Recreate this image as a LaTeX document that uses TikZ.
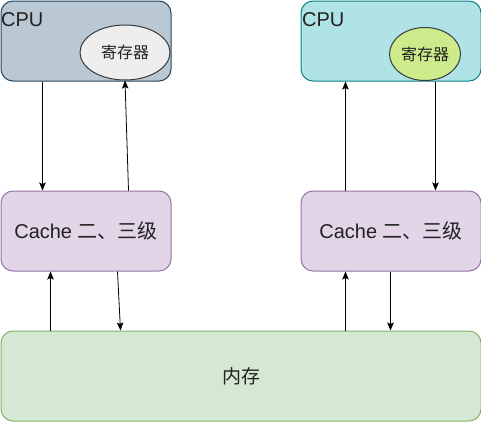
\documentclass[tikz,border=0pt]{standalone}
\usepackage{fontspec}
\setmainfont{Liberation Sans}
\newfontfamily\cjk{Noto Sans CJK SC}
\usetikzlibrary{shapes.geometric,arrows.meta}
\definecolor{cpuLfill}{HTML}{BAC8D3}
\definecolor{cpuLdraw}{HTML}{23445D}
\definecolor{cpuRfill}{HTML}{B0E3E6}
\definecolor{cpuRdraw}{HTML}{0E8088}
\definecolor{regLfill}{HTML}{EEEEEE}
\definecolor{regRfill}{HTML}{CDEB8B}
\definecolor{regdraw}{HTML}{36393D}
\definecolor{cachefill}{HTML}{E1D5E7}
\definecolor{cachedraw}{HTML}{9673A6}
\definecolor{memfill}{HTML}{D5E8D4}
\definecolor{memdraw}{HTML}{82B366}
\definecolor{txt}{HTML}{222222}
\begin{document}
\begin{tikzpicture}[x=1pt,y=-1pt,
  box/.style={rectangle, rounded corners=12pt, line width=1pt, inner sep=0pt, anchor=north west, text=txt},
  regbox/.style={ellipse, line width=1pt, draw=regdraw, inner sep=0pt, text=txt, font=\cjk\fontsize{16}{16}\selectfont},
  bigtext/.style={font=\fontsize{20}{20}\selectfont},
  arr/.style={-{Stealth[length=8pt,width=6.5pt,inset=1.5pt]}, line width=0.8pt, black}]
\useasboundingbox (0,0) rectangle (481,421);
% CPU boxes
\node[box, fill=cpuLfill, draw=cpuLdraw, minimum width=170pt, minimum height=80pt] (cpuL) at (0.5,0.5) {};
\node[box, fill=cpuRfill, draw=cpuRdraw, minimum width=180pt, minimum height=80pt] (cpuR) at (300.5,0.5) {};
\node[anchor=base west, bigtext, text=txt, inner sep=0pt] (cpuLt) at (1,26.5) {CPU};
\node[anchor=base west, bigtext, text=txt, inner sep=0pt] (cpuRt) at (302,26.5) {CPU};
% registers
\node[regbox, fill=regLfill, minimum width=90pt, minimum height=55pt] (regL) at (125,52.5) {寄存器};
\node[regbox, fill=regRfill, minimum width=71pt, minimum height=53pt] (regR) at (425,54) {寄存器};
% caches
\node[box, fill=cachefill, draw=cachedraw, minimum width=170pt, minimum height=80pt] (cacheL) at (0.5,190.5) {};
\node[box, fill=cachefill, draw=cachedraw, minimum width=180pt, minimum height=80pt] (cacheR) at (300.5,190.5) {};
\node[bigtext, text=txt] (cacheLt) at (cacheL.center) {Cache {\cjk 二、三级}};
\node[bigtext, text=txt] (cacheRt) at (cacheR.center) {Cache {\cjk 二、三级}};
% memory
\node[box, fill=memfill, draw=memdraw, minimum width=480pt, minimum height=90pt] (mem) at (0.5,330.5) {};
\node[text=txt, font=\cjk\fontsize{19}{19}\selectfont] (memt) at (mem.center) {内存};
% arrows left
\draw[arr] ([xshift=42pt]cpuL.south west) -- ([xshift=42pt]cacheL.north west);
\draw[arr] ([xshift=128pt]cacheL.north west) -- (regL.south);
\draw[arr] ([xshift=117pt]cacheL.south west) -- ([xshift=120pt]mem.north west);
\draw[arr] ([xshift=50pt]mem.north west) -- ([xshift=50pt]cacheL.south west);
% arrows right
\draw[arr] ([xshift=45pt]cacheR.north west) -- ([xshift=45pt]cpuR.south west);
\draw[arr] ([xshift=135pt]cpuR.south west) -- ([xshift=135pt]cacheR.north west);
\draw[arr] ([xshift=45pt]mem.north west -| cacheR.south west) -- ([xshift=45pt]cacheR.south west);
\draw[arr] ([xshift=90pt]cacheR.south west) -- ([xshift=90pt]mem.north west -| cacheR.south west);
\end{tikzpicture}
\end{document}
